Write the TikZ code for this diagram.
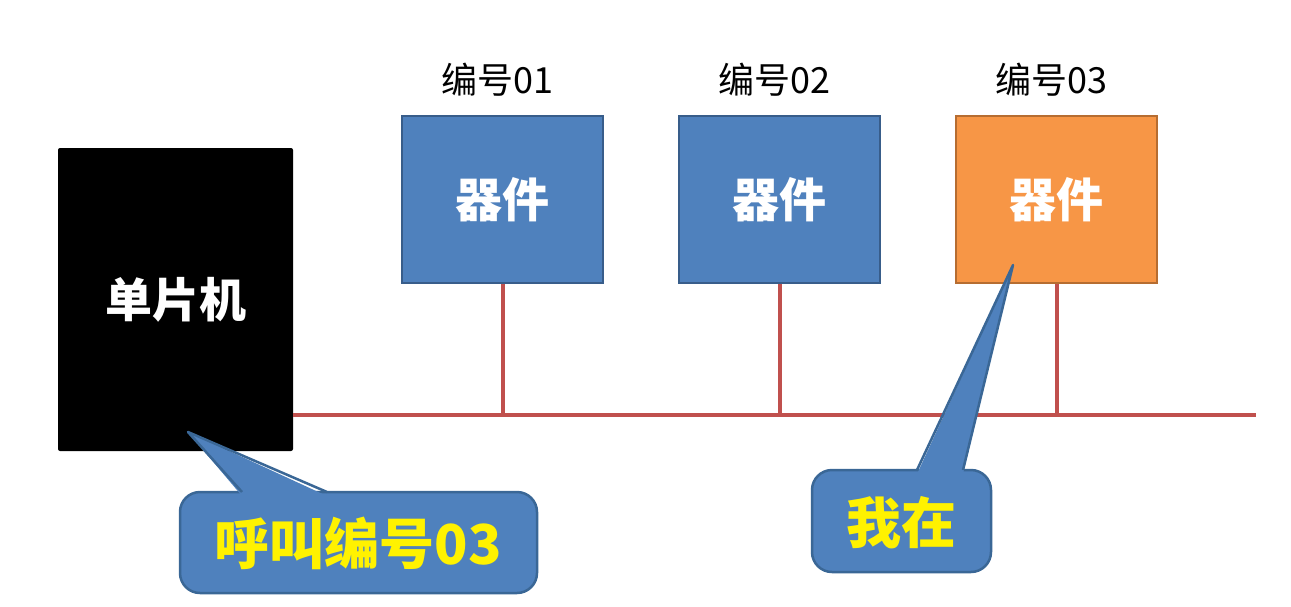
\documentclass[tikz,border=0pt]{standalone}
\usepackage{fontspec}
\newfontfamily\cjk{Noto Sans CJK SC}
\definecolor{boxblue}{HTML}{4F81BD}
\definecolor{boxblueline}{HTML}{385D8A}
\definecolor{boxorange}{HTML}{F79646}
\definecolor{boxorangeline}{HTML}{B66D31}
\definecolor{busred}{HTML}{C0504D}
\definecolor{calloutline}{HTML}{3A6796}
\begin{document}
\begin{tikzpicture}[x=1pt,y=-1pt,
  dev/.style={draw=boxblueline,fill=boxblue,line width=2.5pt,minimum width=201pt,minimum height=167pt,inner sep=0pt,
    font=\cjk\bfseries\fontsize{47}{50}\selectfont,text=white},
  devon/.style={dev,draw=boxorangeline,fill=boxorange},
  lbl/.style={font=\cjk\fontsize{36}{40}\selectfont,text=black,inner sep=0pt},
  bus/.style={draw=busred,line width=4pt},
  callbody/.style={draw=calloutline,fill=boxblue,line width=2.5pt,rounded corners=20pt},
  callfill/.style={fill=boxblue},
  calledge/.style={draw=calloutline,line width=2.5pt,line join=round},
  calltext/.style={font=\cjk\bfseries\fontsize{55}{58}\selectfont,text=yellow,inner sep=0pt}]
\useasboundingbox (0,0) rectangle (1291,606);
% MCU
\node[fill=black,rounded corners=2pt,minimum width=235pt,minimum height=303pt,inner sep=0pt,
  font=\cjk\bfseries\fontsize{47}{50}\selectfont,text=white] (mcu) at (175.5,299.5) {单片机};
% devices
\node[dev] (d1) at (502.5,199.5) {器件};
\node[dev] (d2) at (779.5,199.5) {器件};
\node[devon] (d3) at (1056.5,199.5) {器件};
\node[lbl] (l1) at (497,80) {编号01};
\node[lbl] (l2) at (774,80) {编号02};
\node[lbl] (l3) at (1051,80) {编号03};
% bus
\coordinate (busL) at (mcu.east |- 0,415);
\coordinate (busR) at (1256,415);
\draw[bus] (busL) -- (busR);
\draw[bus] (d1.south) -- (d1.south |- busL);
\draw[bus] (d2.south) -- (d2.south |- busL);
\draw[bus] (d3.south) -- (d3.south |- busL);
% callout 1
\coordinate (t1) at (188,432);
\draw[callbody] (180,492) rectangle (537,593);
\fill[callfill] (242,496) -- (t1) -- (327,496) -- cycle;
\draw[calledge] (242,492) -- (t1) -- (327,492);
\node[calltext] (c1) at (358,543) {呼叫编号03};
% callout 2
\coordinate (t2) at (1013,265);
\draw[callbody] (812,470) rectangle (991,572);
\fill[callfill] (917,474) -- (t2) -- (963,474) -- cycle;
\draw[calledge] (917,470) -- (t2) -- (963,470);
\node[calltext] (c2) at (901,523) {我在};
\end{tikzpicture}
\end{document}
